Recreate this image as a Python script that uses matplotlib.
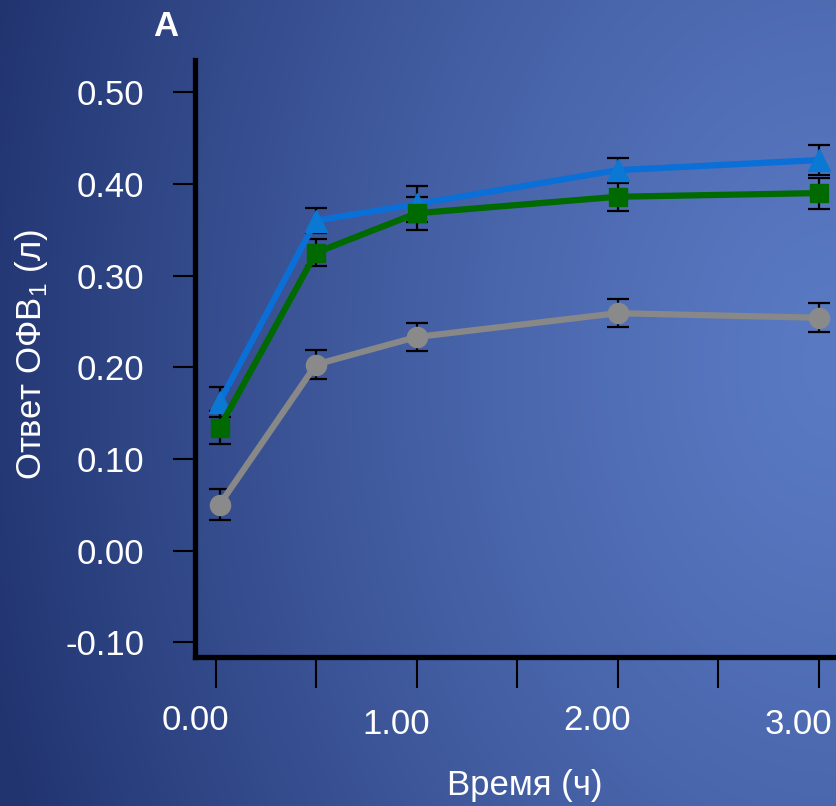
import numpy as np
import matplotlib
matplotlib.use("Agg")
import matplotlib.pyplot as plt
import matplotlib.transforms as mtransforms

# ---- data ----
time_h = [0.02, 0.5, 1.0, 2.0, 3.0]
blue_vals = [0.162, 0.360, 0.378, 0.415, 0.426]
blue_err = [0.016, 0.014, 0.020, 0.013, 0.016]
green_vals = [0.134, 0.325, 0.368, 0.386, 0.390]
green_err = [0.018, 0.015, 0.018, 0.015, 0.017]
gray_vals = [0.050, 0.203, 0.233, 0.259, 0.254]
gray_err = [0.017, 0.016, 0.015, 0.015, 0.016]

y_ticks = [-0.10, 0.00, 0.10, 0.20, 0.30, 0.40, 0.50]
x_major = [0.0, 1.0, 2.0, 3.0]
x_minor = [0.5, 1.5, 2.5]
x_labels = ["0.00", "1.00", "2.00", "3.00"]

FONT = ["Liberation Sans", "DejaVu Sans"]
plt.rcParams["font.family"] = FONT
plt.rcParams["mathtext.fontset"] = "custom"
plt.rcParams["mathtext.rm"] = "Liberation Sans"

W, H = 836, 806
fig = plt.figure(figsize=(W / 100, H / 100), dpi=100)

# ---- gradient background ----
bg = fig.add_axes([0, 0, 1, 1], zorder=-10)
yy, xx = np.mgrid[0:H, 0:W]
u = xx / W
v = yy / H
d = np.sqrt((u - 1.0) ** 2 + ((v - 0.45) * 0.7) ** 2)
t = np.clip(d / 1.05, 0, 1) ** 1.3
dark = np.array([33, 52, 112]) / 255
light = np.array([90, 122, 196]) / 255
img = light[None, None, :] * (1 - t[..., None]) + dark[None, None, :] * t[..., None]
bg.imshow(img, aspect="auto", extent=[0, 1, 0, 1], origin="upper")
bg.set_axis_off()

# ---- main axes ----
ax_left = 194.5 / W
ax_bottom = (H - 657) / H
ax_top = (H - 60) / H
ax = fig.add_axes([ax_left, ax_bottom, 1.0 - ax_left, ax_top - ax_bottom])
ax.set_facecolor("none")

x0_px, px_per_h = 215.5, 201.0
ax.set_xlim((194.5 - x0_px) / px_per_h, (W - x0_px) / px_per_h)
y0_px, px_per_unit = 550.6, 916.7
ax.set_ylim((y0_px - 657) / px_per_unit, (y0_px - 60) / px_per_unit)

common = dict(ecolor="black", elinewidth=1.6, capsize=8, capthick=1.6, lw=4.5)
ax.errorbar(time_h, gray_vals, yerr=gray_err, color="#888888", marker="o",
            ms=14.5, mfc="#8a8a8a", mec="#8a8a8a", **common)
ax.errorbar(time_h, blue_vals, yerr=blue_err, color="#0a6fd6", marker="^",
            ms=16, mfc="#0b78d4", mec="#0b78d4", **common)
ax.errorbar(time_h, green_vals, yerr=green_err, color="#006a00", marker="s",
            ms=13, mfc="#006a00", mec="#006a00", **common)

for s in ["top", "right"]:
    ax.spines[s].set_visible(False)
for s in ["left", "bottom"]:
    ax.spines[s].set_linewidth(3.8)
    ax.spines[s].set_color("black")
    ax.spines[s].set_capstyle("projecting")

ax.set_yticks(y_ticks)
ax.set_yticklabels([f"{v:.2f}" for v in y_ticks])
ax.tick_params(axis="y", direction="out", length=16, width=1.5, color="black",
               labelcolor="white", labelsize=25, pad=20)

ax.set_xticks(x_major)
ax.set_xticks(x_minor, minor=True)
ax.set_xticklabels(x_labels)
ax.tick_params(axis="x", which="both", direction="out", length=22, width=1.5,
               color="black")
ax.tick_params(axis="x", which="major", labelcolor="white", labelsize=25, pad=12)

dys = [0.0, -0.04, 0.0, -0.04]
for lbl, dy in zip(ax.get_xticklabels(), dys):
    off = mtransforms.ScaledTranslation(-0.20, dy, fig.dpi_scale_trans)
    lbl.set_transform(lbl.get_transform() + off)

fig.text(525 / W, 1 - 785 / H, "Время (ч)", color="white", fontsize=25,
         ha="center", va="center")
fig.text(32 / W, 1 - 355 / H, "Ответ ОФВ$_1$ (л)", color="white", fontsize=25,
         ha="center", va="center", rotation=90)
fig.text(166 / W, 1 - 27 / H, "A", color="white", fontsize=25,
         fontweight="bold", ha="center", va="center")

fig.savefig("out.png", dpi=100)
